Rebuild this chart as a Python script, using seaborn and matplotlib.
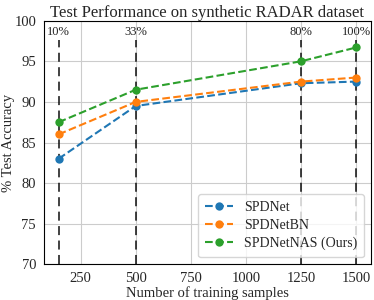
import pandas as pd
import matplotlib
matplotlib.use('Agg')
import matplotlib.pyplot as plt
import seaborn as sns

samples = [150, 500, 1250, 1500]
spdnet = [83.0, 89.5, 92.3, 92.5]
spdnet_bn = [86.0, 90.0, 92.5, 93.0]
spdnet_nas = [87.5, 91.5, 95.0, 96.7]
split_labels = ['10%', '33%', '80%', '100%']
model_names = ['SPDNet', 'SPDNetBN', 'SPDNetNAS (Ours)']

df = pd.DataFrame({
    'samples': samples * 3,
    'acc': spdnet + spdnet_bn + spdnet_nas,
    'model': [m for m in model_names for _ in samples],
})

sns.set_style('whitegrid', {'axes.edgecolor': 'black', 'grid.color': '#cccccc'})
plt.rcParams['font.family'] = ['Liberation Serif', 'DejaVu Serif']

fig = plt.figure(figsize=(3.74, 3.0), dpi=100)
ax = fig.add_axes([0.117, 0.119, 0.875, 0.812])

# vertical markers for the training splits
for xs, lab in zip(samples, split_labels):
    ax.plot([xs, xs], [70, 97.6], color='black', linestyle=(0, (5, 3)), linewidth=1.3, alpha=0.8, zorder=1)
    ax.text(xs, 98.6, lab, ha='center', va='center', fontsize=9, color='#222222')

sns.lineplot(data=df, x='samples', y='acc', hue='model', palette=['#1f77b4', '#ff7f0e', '#2ca02c'],
             marker='o', markersize=6, markeredgewidth=0, linestyle='--', linewidth=1.5, ax=ax, zorder=3)

ax.set_ylim(70, 100)
ax.set_xticks([250, 500, 750, 1000, 1250, 1500])
ax.set_yticks([70, 75, 80, 85, 90, 95, 100])
ax.tick_params(labelsize=10.5, length=3.5, color='black', pad=2)
ax.set_title('Test Performance on synthetic RADAR dataset', fontsize=12, pad=3)
ax.set_xlabel('Number of training samples', fontsize=10.5, labelpad=1)
ax.set_ylabel('% Test Accuracy', fontsize=10.5)
ax.yaxis.set_label_coords(-0.087, 0.5)
leg = ax.legend(loc='lower right', fontsize=10, frameon=True, borderpad=0.5, labelspacing=0.35,
                handlelength=2.0)
leg.get_frame().set_edgecolor('#cccccc')

fig.savefig('out.png', dpi=100)
